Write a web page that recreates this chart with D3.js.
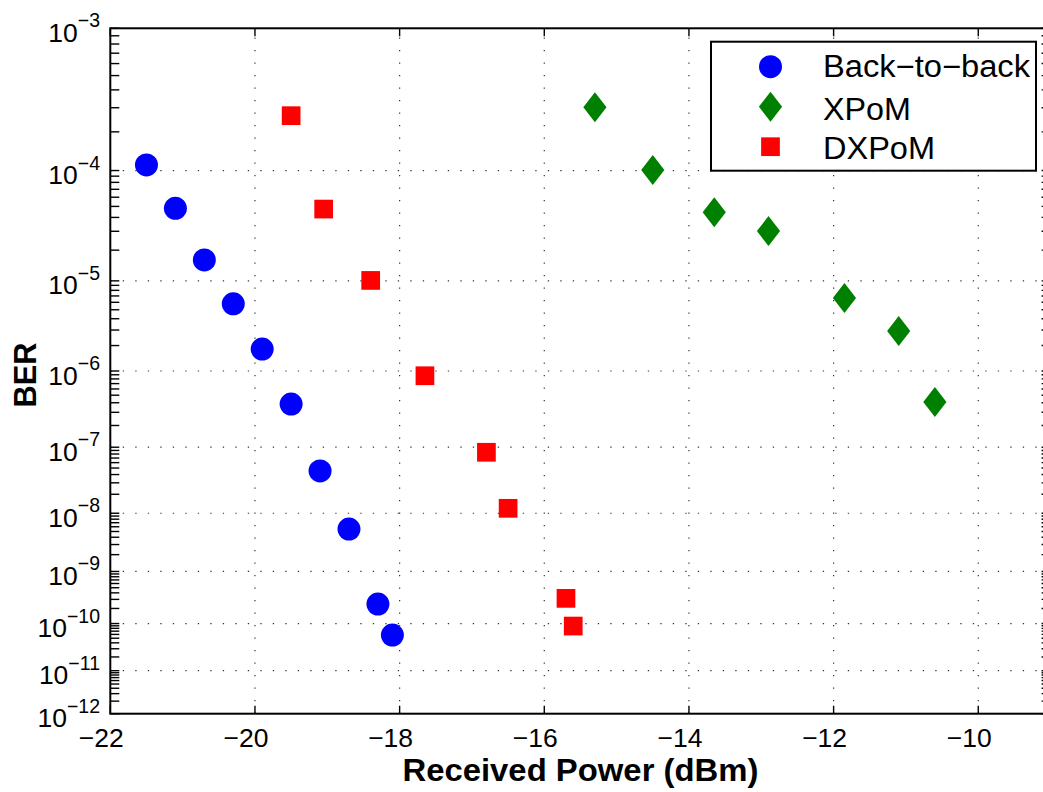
<!DOCTYPE html>
<html>
<head>
<meta charset="utf-8">
<script src="https://cdn.jsdelivr.net/npm/d3@7"></script>
<style>
  html, body { margin: 0; padding: 0; background: #fff; }
  svg { display: block; font-family: "Liberation Sans", Arial, Helvetica, sans-serif; }
</style>
</head>
<body>
<svg id="chart" width="1043" height="792"></svg>
<script>
// Received optical power (dBm) and measured BER for each configuration
const b2bPower = [-21.5, -21.1, -20.7, -20.3, -19.9, -19.5, -19.1, -18.7, -18.3, -18.1];
const b2bBER   = [1.11e-4, 4.81e-5, 1.61e-5, 5.79e-6, 1.82e-6, 3.85e-7, 4.52e-8, 5.48e-9, 2.44e-10, 5.83e-11];

const xpomPower = [-15.3, -14.5, -13.65, -12.9, -11.85, -11.1, -10.6];
const xpomBER   = [3.02e-4, 1.01e-4, 4.44e-5, 3.01e-5, 6.65e-6, 2.92e-6, 4.09e-7];

const dxpomPower = [-19.5, -19.05, -18.4, -17.65, -16.8, -16.5, -15.7, -15.6];
const dxpomBER   = [2.63e-4, 4.74e-5, 1.01e-5, 8.75e-7, 8.47e-8, 1.2e-8, 3.14e-10, 8.9e-11];

const seriesNames = ["Back\u2212to\u2212back", "XPoM", "DXPoM"];
const xTicks = [-22, -20, -18, -16, -14, -12, -10];
const yExponents = [-3, -4, -5, -6, -7, -8, -9, -10, -11, -12];
const xDomain = [-22, -9];

const svg = d3.select("#chart");
svg.append("rect").attr("width", 1043).attr("height", 792).attr("fill", "#fff");

const pL = 110.3, pR = 1050.6, pT = 28.3, pB = 713.7;

// BER axis: linear in log10(-log10(BER))
const berT = b => Math.log10(-Math.log10(b));
const x = d3.scaleLinear().domain(xDomain).range([pL, pR]);
const yT = d3.scaleLinear().domain([berT(1e-3), berT(1e-12)]).range([pT, pB]);
const y = b => yT(berT(b));

const g = svg.append("g");

// dotted grid
const gridStyle = sel => sel.attr("stroke", "#333").attr("stroke-width", 1.2)
  .attr("stroke-dasharray", "1.3,11.2").attr("fill", "none");
g.selectAll("line.vgrid").data(xTicks.filter(t => t > xDomain[0])).enter().append("line")
  .attr("class", "vgrid")
  .attr("x1", d => x(d)).attr("x2", d => x(d))
  .attr("y1", pB).attr("y2", pT)
  .call(gridStyle);
g.selectAll("line.hgrid").data(yExponents.slice(1, -1)).enter().append("line")
  .attr("class", "hgrid")
  .attr("x1", pL).attr("x2", pR)
  .attr("y1", d => y(Math.pow(10, d))).attr("y2", d => y(Math.pow(10, d)))
  .call(gridStyle);

// minor + major ticks on the BER axis
const yTickVals = [];
for (let e = -12; e < -3; e++) {
  for (let m = 1; m <= 9; m++) yTickVals.push(m * Math.pow(10, e));
}
yTickVals.push(1e-3);
const tickLen = 9;
g.selectAll("line.ytl").data(yTickVals).enter().append("line")
  .attr("x1", pL).attr("x2", pL + tickLen)
  .attr("y1", d => y(d)).attr("y2", d => y(d))
  .attr("stroke", "#000").attr("stroke-width", 1.4);
g.selectAll("line.ytr").data(yTickVals).enter().append("line")
  .attr("x1", pR).attr("x2", pR - tickLen)
  .attr("y1", d => y(d)).attr("y2", d => y(d))
  .attr("stroke", "#000").attr("stroke-width", 1.4);

// x ticks bottom and top
g.selectAll("line.xtb").data(xTicks).enter().append("line")
  .attr("x1", d => x(d)).attr("x2", d => x(d))
  .attr("y1", pB).attr("y2", pB - 8)
  .attr("stroke", "#000").attr("stroke-width", 1.4);
g.selectAll("line.xtt").data(xTicks).enter().append("line")
  .attr("x1", d => x(d)).attr("x2", d => x(d))
  .attr("y1", pT).attr("y2", pT + 8)
  .attr("stroke", "#000").attr("stroke-width", 1.4);

// axes box
g.append("rect").attr("x", pL).attr("y", pT)
  .attr("width", pR - pL).attr("height", pB - pT)
  .attr("fill", "none").attr("stroke", "#000").attr("stroke-width", 2);

// y tick labels 10^e
const yl = g.selectAll("text.ylab").data(yExponents).enter().append("text")
  .attr("x", 100).attr("y", d => y(Math.pow(10, d)) + 13.5)
  .attr("text-anchor", "end").attr("font-size", 26.5).attr("fill", "#000");
yl.append("tspan").text("10");
yl.append("tspan").attr("dy", -14.5).attr("font-size", 19.5).text(d => "\u2212" + Math.abs(d));

// x tick labels
g.selectAll("text.xlab").data(xTicks).enter().append("text")
  .attr("x", d => x(d) - 9).attr("y", 746.7)
  .attr("text-anchor", "middle").attr("font-size", 26.5).attr("fill", "#000")
  .text(d => (d < 0 ? "\u2212" : "") + Math.abs(d));

// axis titles
svg.append("text").attr("x", (pL + pR) / 2).attr("y", 781)
  .attr("text-anchor", "middle").attr("font-size", 31).attr("font-weight", "bold")
  .attr("textLength", 356).attr("lengthAdjust", "spacingAndGlyphs")
  .text("Received Power (dBm)");
svg.append("text").attr("transform", `translate(36,${(pT + pB) / 2 + 4}) rotate(-90)`)
  .attr("text-anchor", "middle").attr("font-size", 31).attr("font-weight", "bold")
  .attr("textLength", 65).attr("lengthAdjust", "spacingAndGlyphs")
  .text("BER");

// markers
const diamond = (cx, cy) => `M${cx},${cy - 15}L${cx + 11.6},${cy}L${cx},${cy + 15}L${cx - 11.6},${cy}Z`;
const sq = 18.7;

g.selectAll("circle.b2b").data(d3.zip(b2bPower, b2bBER)).enter().append("circle")
  .attr("cx", d => x(d[0])).attr("cy", d => y(d[1])).attr("r", 11.5).attr("fill", "#0000ff");
g.selectAll("path.xpom").data(d3.zip(xpomPower, xpomBER)).enter().append("path")
  .attr("d", d => diamond(x(d[0]), y(d[1]))).attr("fill", "#008000");
g.selectAll("rect.dxpom").data(d3.zip(dxpomPower, dxpomBER)).enter().append("rect")
  .attr("x", d => x(d[0]) - sq / 2).attr("y", d => y(d[1]) - sq / 2)
  .attr("width", sq).attr("height", sq).attr("fill", "#ff0000");

// legend
const lg = svg.append("g");
lg.append("rect").attr("x", 711).attr("y", 41.7).attr("width", 325).attr("height", 129)
  .attr("fill", "#fff").attr("stroke", "#000").attr("stroke-width", 2);
const lx = 770.5, rows = [66.7, 106.7, 146.7];
lg.append("circle").attr("cx", lx).attr("cy", rows[0]).attr("r", 11.5).attr("fill", "#0000ff");
lg.append("path").attr("d", diamond(lx, rows[1])).attr("fill", "#008000");
lg.append("rect").attr("x", lx - sq / 2).attr("y", rows[2] - sq / 2)
  .attr("width", sq).attr("height", sq).attr("fill", "#ff0000");
lg.selectAll("text").data(seriesNames).enter().append("text")
  .attr("x", 823).attr("y", (d, i) => [76.7, 120, 159.3][i])
  .attr("font-size", 31).attr("fill", "#000")
  .attr("textLength", (d, i) => [207, 88, 112][i]).attr("lengthAdjust", "spacingAndGlyphs")
  .text(d => d);
</script>
</body>
</html>
